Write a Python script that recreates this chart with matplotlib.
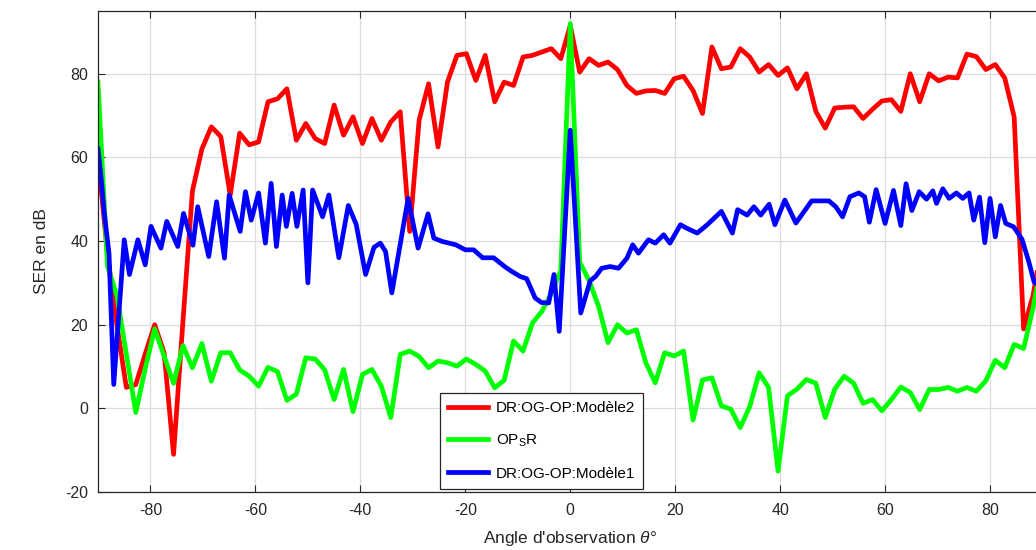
import numpy as np
import matplotlib
matplotlib.use("Agg")
import matplotlib.pyplot as plt

plt.rcParams["font.family"] = ["Liberation Sans", "DejaVu Sans"]
plt.rcParams["mathtext.fontset"] = "custom"
plt.rcParams["mathtext.rm"] = "Liberation Sans"
plt.rcParams["mathtext.it"] = "Liberation Sans:italic"
plt.rcParams["mathtext.sf"] = "Liberation Sans"
plt.rcParams["axes.unicode_minus"] = False

# Angle grid (deg) shared by the two first curves
angles = np.linspace(-90, 90, 101)

# DR:OG-OP:Modele2 (red)
ser_modele2 = [
    60, 37, 20, 5, 5.7, 13, 20, 13.3, -11, 21,
    52, 62, 67.3, 65, 51, 65.8, 63, 63.7, 73.3, 74,
    76.4, 64.1, 68.1, 64.5, 63.3, 72.5, 65.3, 69.7, 63.3, 69.3,
    64.1, 68.5, 70.9, 42.3, 68.9, 77.6, 62.5, 78, 84.4, 84.8,
    78.4, 84.4, 73.3, 78, 77.2, 84, 84.4, 85.2, 86, 83.6,
    91.5, 80.4, 83.6, 82, 82.8, 81, 77.2, 75.3, 75.9, 76,
    75.3, 78.8, 79.4, 76, 70.5, 86.4, 81.2, 81.6, 86, 84,
    80.4, 82.2, 79.6, 81.4, 76.4, 80, 71, 67, 71.8, 72,
    72.1, 69.3, 71.5, 73.5, 73.8, 71, 80, 73.3, 80, 78.3,
    79.2, 79, 84.7, 84.1, 81, 82.2, 79, 69.7, 19, 27,
    40,
]

# OP_S R (green)
ser_ops_r = [
    78, 34, 27, 13, -1, 9.5, 19, 12.5, 6, 15,
    9.7, 15.5, 6.5, 13.3, 13.3, 9.2, 7.7, 5.3, 9.8, 8.8,
    1.9, 3.4, 12.1, 11.8, 9.2, 2.1, 9.3, -0.8, 8.1, 9.3,
    5.3, -2.2, 12.9, 13.7, 12.4, 9.7, 11.3, 10.9, 10.1, 11.8,
    10.5, 8.9, 4.9, 6.7, 16.1, 13.7, 20.4, 23.2, 27.5, 33,
    92, 35, 30.5, 24.4, 15.7, 20, 18, 18.8, 10.9, 6.1,
    13.3, 12.5, 13.7, -2.8, 6.8, 7.3, 0.6, -0.2, -4.6, 0.4,
    8.5, 5, -15, 3, 4.6, 6.9, 6, -2.2, 4.6, 7.7,
    6, 1.2, 2.1, -0.6, 2.1, 5.1, 3.8, -0.3, 4.5, 4.5,
    5, 4.1, 5, 4.1, 6.6, 11.5, 9.7, 15.3, 14.3, 24,
    36,
]

# DR:OG-OP:Modele1 (blue), own angle sampling
angles_m1 = [
    -90, -89.4, -88.8, -87.9, -87, -85, -84, -82.4, -81, -79.9,
    -78, -76.9, -74.8, -73.7, -71.9, -71, -68.9, -67.4, -65.9, -65,
    -62.9, -61.9, -60.8, -59.4, -58.1, -57, -56, -54.9, -54.1, -53,
    -52.1, -50.9, -50, -49.1, -47.2, -46, -44.1, -42.3, -40.8, -39,
    -37.4, -36.2, -35.2, -34, -30.9, -29, -27.1, -26, -24.4, -21.8,
    -20, -18.4, -16.7, -14.6, -12.5, -11.1, -9.5, -8.3, -6.7, -5.5,
    -4.1, -3.1, -2.1, 0, 2, 3.8, 4.8, 6, 7.6, 9.2,
    10.8, 11.9, 13, 14.9, 16.2, 17.8, 19, 21, 22.3, 24.2,
    26.2, 28.8, 30.9, 31.9, 33.7, 35, 36.3, 37.9, 39, 40.9,
    43, 46, 49.3, 50.6, 51.9, 53.3, 55, 56.1, 57, 58.3,
    60, 61.6, 63, 64, 65.1, 66.5, 67.9, 69.1, 69.8, 71,
    72.2, 73.6, 74.8, 76, 76.9, 78, 79, 80, 81, 82,
    83, 84.5, 86.1, 87.4, 88.4, 90,
]
ser_modele1 = [
    62, 55, 46.7, 37, 5.7, 40.3, 32, 40.3, 34.3, 43.5,
    38.3, 44.7, 38.7, 46.6, 39, 48.2, 36.3, 49.4, 35.9, 51,
    42.3, 51.8, 45, 51.5, 39.5, 53.8, 38.7, 51, 43.5, 51.4,
    43.5, 52.2, 30, 52.2, 45.8, 51, 36, 48.5, 44, 32,
    38.5, 39.5, 37.5, 27.6, 50.2, 38.3, 46.5, 40.7, 39.9, 39.1,
    37.9, 37.9, 36, 36, 33.9, 32.7, 31.5, 31, 26.4, 25.3,
    25.2, 32, 18.4, 66.5, 22.8, 30.5, 31.5, 33.5, 33.9, 33.5,
    35.9, 39.1, 37.1, 40.3, 39.5, 41.5, 39.5, 43.9, 43, 41.9,
    44, 47.1, 41.9, 47.5, 46.2, 48.2, 46.2, 48.8, 43.9, 49.8,
    44.3, 49.6, 49.6, 48.2, 45.8, 50.6, 51.5, 50.6, 44.5, 52.3,
    44.2, 52.1, 43.7, 53.7, 47.3, 51.8, 50, 52, 49, 52.5,
    50.2, 51.5, 50.2, 51.5, 45, 50.5, 39.6, 50.2, 41, 48.5,
    44.2, 43.4, 40.4, 35, 30.2, 29,
]

x_ticks = [-80, -60, -40, -20, 0, 20, 40, 60, 80]
y_ticks = [-20, 0, 20, 40, 60, 80]

dark = "#262626"

fig = plt.figure(figsize=(10.36, 5.5), dpi=100)
# the right edge of the axes is cut by the figure, as in the reference
ax = fig.add_axes([98 / 1036, 58 / 550, 944.5 / 1036, 481 / 550])

ax.plot(angles, ser_modele2, color=(1, 0, 0), lw=3.4, label="DR:OG-OP:Modèle2")
ax.plot(angles, ser_ops_r, color=(0, 1, 0), lw=3.4, label="OP$_\\mathsf{S}$R")
ax.plot(angles_m1, ser_modele1, color=(0, 0, 1), lw=3.4, label="DR:OG-OP:Modèle1")

ax.set_xlim(-90, 90)
ax.set_ylim(-20, 95)
ax.set_xticks(x_ticks)
ax.set_yticks(y_ticks)
ax.grid(True, color="#dcdcdc", lw=0.9)
ax.set_axisbelow(True)

ax.tick_params(direction="in", length=5, width=0.8, colors=dark,
               labelsize=11.5, top=True, right=True)
ax.tick_params(axis="x", pad=8)
ax.tick_params(axis="y", pad=7)
for s in ax.spines.values():
    s.set_color(dark)
    s.set_linewidth(0.9)

ax.set_xlabel("Angle d'observation $\\theta$°", fontsize=12.5, color=dark, labelpad=8)
ax.set_ylabel("SER en dB", fontsize=12.5, color=dark, labelpad=12)

leg = ax.legend(loc="lower left", bbox_to_anchor=(0.362, 0.006), borderaxespad=0,
                fontsize=11, fancybox=False, framealpha=1, edgecolor=dark,
                handlelength=2.6, handletextpad=0.5, labelspacing=1.15,
                borderpad=0.55)
leg.get_frame().set_linewidth(0.9)

fig.savefig("out.png", dpi=100)
